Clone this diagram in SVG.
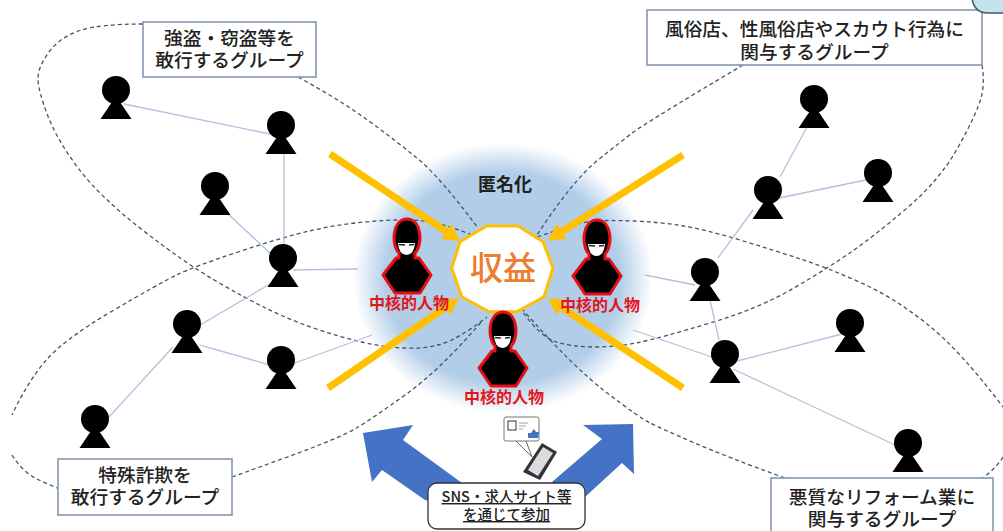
<svg xmlns="http://www.w3.org/2000/svg" width="1003" height="531" viewBox="0 0 1003 531">
<style>
text{font-family:"Noto Sans CJK JP","Noto Sans",sans-serif;text-anchor:middle}
.lb{font-size:18.7px;font-weight:500;fill:#222}
.core{font-size:16px;font-weight:700;fill:#e0181e}
.box{fill:#fff;stroke:#8497b0;stroke-width:1.6}
.ring{fill:none;stroke:#44546a;stroke-width:1.3;stroke-dasharray:4 3}
.link{stroke:#b4c1dc;stroke-width:1.3;fill:none}
.gold{stroke:#ffc000;stroke-width:7;fill:none;marker-end:url(#ah)}
.sns{font-size:14.5px;font-weight:500;fill:#222;text-decoration:underline}
</style>
<defs>
<radialGradient id="glow"><stop offset="0.78" stop-color="#b1cde8"/><stop offset="1" stop-color="#b1cde8" stop-opacity="0"/></radialGradient>
<marker id="ah" markerUnits="userSpaceOnUse" markerWidth="18" markerHeight="22" refX="1" refY="11" orient="auto"><path d="M0,2 L17,11 L0,20 Z" fill="#ffc000"/></marker>
<g id="p"><circle cx="0" cy="0" r="14" fill="#000"/><path d="M0,6 L15.5,29 L-15.5,29 Z" fill="#000"/></g>
<g id="hood"><path d="M-8,16 C-16,8 -15,-18 0,-18 C15,-18 16,8 8,16 L8,21 L12,21 L24,38 L13,56 L-12,56 L-24,38 L-11,21 L-8,21 Z" fill="#000" stroke="#e60f14" stroke-width="3" stroke-linejoin="round"/><path d="M-9,6 L8,6 Q7,18 -0.5,18 Q-8,18 -9,6 Z" fill="#fff"/><path d="M-8,7.5 L-2,8 M2,8 L7,7.5" stroke="#222" stroke-width="1.5"/></g>
</defs>
<rect width="1003" height="531" fill="#fff"/>
<ellipse cx="503" cy="278" rx="150" ry="135" fill="url(#glow)"/>
<g id="rings">
<path class="ring" d="M143,24 Q100,24 80,30.5 Q60,37 49,52 Q38,67 38,78.5 Q38,90 47.5,115 Q57,140 78.5,168.5 Q100,197 142.5,230 Q185,263 215,280.5 Q245,298 267.5,309 Q290,320 315,328.5 Q340,337 361.5,342 Q383,347 403,348 Q423,349 440,344.5 Q457,340 487,317"/>
<path class="ring" d="M298,77 Q340,100 367.5,120 Q395,140 417.5,158.5 Q440,177 478,228"/>
<path class="ring" d="M472,235 Q440,222 420,220.5 Q400,219 370,221.5 Q340,224 311.5,230.5 Q283,237 238,252 Q193,267 176.5,275 Q160,283 111.5,311.5 Q63,340 45,361.5 Q27,383 12,415"/>
<path class="ring" d="M12,455 Q23,473 40,480.5 L57,488"/>
<path class="ring" d="M232,477 L286,457.5 Q340,438 356.5,428 Q373,418 406.5,394 Q440,370 483,320"/>
<path class="ring" d="M743,65 L691,96 Q640,127 631.5,133.5 Q623,140 598,160 Q573,180 537,235"/>
<path class="ring" d="M982,65 Q985,83 981,98 Q977,113 958.5,146.5 Q940,180 906.5,208.5 Q873,237 850.5,252.5 Q828,268 794,288 Q760,308 710,323 Q660,338 638.5,342.5 Q617,347 595,347 Q573,347 556.5,342 Q540,337 523,312"/>
<path class="ring" d="M537,237 Q580,222 593.5,221 Q607,220 633.5,221 Q660,222 683.5,226 Q707,230 740,240 Q773,250 800.5,259 Q828,268 860.5,282.5 Q893,297 926.5,323.5 Q960,350 1003,407"/>
<path class="ring" d="M1003,457 Q998,466 983,478"/>
<path class="ring" d="M785,478 Q727,457 693.5,442.5 Q660,428 650,423 Q640,418 606.5,392.5 Q573,367 523,310"/>
</g>
<g id="connectors">
<path class="link" d="M124,104 L270,134"/><path class="link" d="M284,150 L284,245"/><path class="link" d="M228,214 L270,253"/><path class="link" d="M293,270 L358,269"/>
<path class="link" d="M200,325 L270,284"/><path class="link" d="M200,345 L270,365"/><path class="link" d="M292,364 L372,335"/><path class="link" d="M109,417 L173,347"/>
<path class="link" d="M807,127 L780,177"/><path class="link" d="M779,198 L866,180"/><path class="link" d="M753,210 L718,258"/><path class="link" d="M645,275 L695,285"/>
<path class="link" d="M710,300 L719,340"/><path class="link" d="M633,330 L712,357"/><path class="link" d="M737,361 L842,334"/><path class="link" d="M733,369 L895,445"/>
</g>
<g id="persons">
<use id="person-1" href="#p" x="116" y="90"/><use id="person-2" href="#p" x="281" y="125"/><use id="person-3" href="#p" x="215" y="186"/><use id="person-4" href="#p" x="283" y="258"/>
<use id="person-5" href="#p" x="187" y="324"/><use id="person-6" href="#p" x="281" y="360"/><use id="person-7" href="#p" x="95" y="419"/>
<use id="person-8" href="#p" x="814" y="99"/><use id="person-9" href="#p" x="768" y="190"/><use id="person-10" href="#p" x="878" y="173"/><use id="person-11" href="#p" x="705" y="272"/>
<use id="person-12" href="#p" x="725" y="354"/><use id="person-13" href="#p" x="850" y="323"/><use id="person-14" href="#p" x="908" y="443"/>
</g>
<g id="gold-arrows">
<path class="gold" d="M330,154 L447,232"/><path class="gold" d="M683,155 L561,232"/><path class="gold" d="M328,388 L446,307"/><path class="gold" d="M683,388 L561,307"/>
</g>
<g id="hub">
<polygon points="460,241.7 486.7,226 518,226 543,241.7 553,268 544,296.7 516.7,311.7 489,311.7 461.7,296.7 451.7,268" fill="#fff" stroke="#ffc000" stroke-width="3"/>
<text x="503" y="280" font-size="33" font-weight="500" fill="#ed7d31">収益</text>
</g>
<text id="anon" x="505" y="191" font-size="18" font-weight="700" fill="#222">匿名化</text>
<g id="core-1"><use href="#hood" x="407" y="237"/><text class="core" x="409" y="309">中核的人物</text></g>
<g id="core-2"><use href="#hood" x="597" y="238"/><text class="core" x="600" y="311">中核的人物</text></g>
<g id="core-3"><use href="#hood" x="503" y="330"/><text class="core" x="504" y="403">中核的人物</text></g>
<g id="blue-arrows" fill="#4472c4">
<polygon points="363,433 413,425 403,440 462,483 470,510 425,500 382,470 372,482"/>
<polygon points="633,424 583,425 602,439 552,482 545,510 585,497 622,463 634,474"/>
</g>
<g id="phone">
<path d="M516,441 L532,457 L526,441" fill="#fff" stroke="#666" stroke-width="1"/>
<rect x="504" y="417" width="35" height="24" rx="2" fill="#fff" stroke="#777" stroke-width="1"/>
<rect x="508" y="421" width="8" height="9" fill="#fff" stroke="#333" stroke-width="1"/>
<path d="M519,423 H528 M519,426 H526 M519,429 H523" stroke="#888" stroke-width="0.8"/>
<path d="M528,438 V433 H531 L534,429 L536,432 H539 L538,438 Z" fill="#4472c4"/>
<polygon points="523,472 542,443 557,452 540,480" fill="#333"/>
<polygon points="528,470 543,447 553,453 538,476" fill="#d9dde2"/>
</g>
<g id="sns-box"><rect x="428" y="483" width="157" height="46" rx="9" fill="#fff" stroke="#333" stroke-width="1.3"/>
<text class="sns" x="506.5" y="502">SNS・求人サイト等</text><text class="sns" x="506.5" y="520">を通じて参加</text></g>
<g id="label-tl"><rect class="box" x="143" y="22" width="173" height="55"/><text class="lb" x="229.5" y="45">強盗・窃盗等を</text><text class="lb" x="229.5" y="67">敢行するグループ</text></g>
<g id="label-tr"><rect class="box" x="647" y="10" width="335" height="55"/><text class="lb" x="814.5" y="36">風俗店、性風俗店やスカウト行為に</text><text class="lb" x="814.5" y="59">関与するグループ</text></g>
<g id="label-bl"><rect class="box" x="58" y="459" width="174" height="56"/><text class="lb" x="145" y="482">特殊詐欺を</text><text class="lb" x="145" y="504">敢行するグループ</text></g>
<g id="label-br"><rect class="box" x="771" y="478" width="222" height="60"/><text class="lb" x="882" y="504">悪質なリフォーム業に</text><text class="lb" x="882" y="526">関与するグループ</text></g>
<path id="corner" d="M972,-2 Q974,13 988,13 L1005,13 L1005,-2 Z" fill="#c3e4ea" stroke="#44546a" stroke-width="1.5"/>
</svg>
